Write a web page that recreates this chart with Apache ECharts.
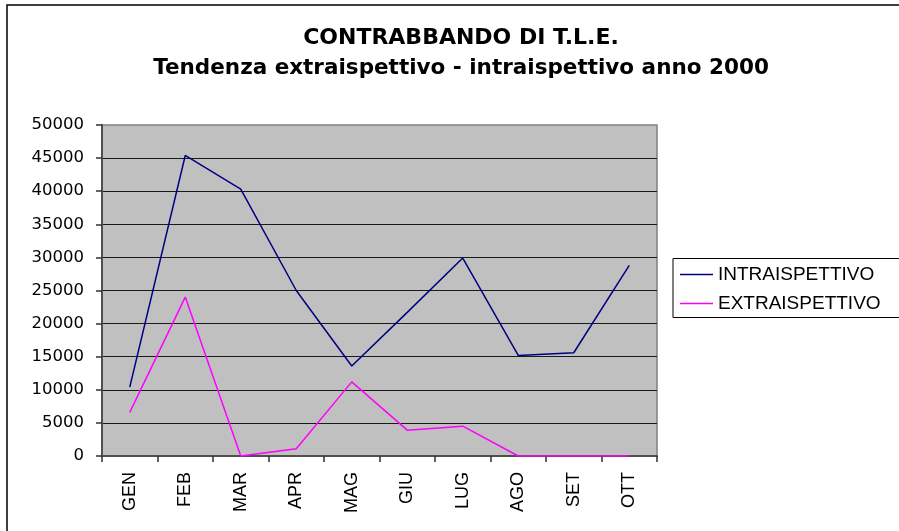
<!DOCTYPE html>
<html>
<head>
<meta charset="utf-8">
<script src="https://cdn.jsdelivr.net/npm/echarts@6/dist/echarts.min.js"></script>
<style>html,body{margin:0;padding:0;background:#fff;}#c{width:899px;height:531px;}</style>
</head>
<body>
<div id="c"></div>
<script>
const categories = ['GEN','FEB','MAR','APR','MAG','GIU','LUG','AGO','SET','OTT'];
const intraispettivo = [10400, 45400, 40300, 25000, 13600, 21700, 29900, 15200, 15600, 28800];
const extraispettivo = [6600, 24000, 0, 1100, 11200, 3900, 4500, 0, 0, 0];
const seriesNames = ['INTRAISPETTIVO', 'EXTRAISPETTIVO'];
const titleLines = ['CONTRABBANDO DI T.L.E.', 'Tendenza extraispettivo - intraispettivo anno 2000'];

const chart = echarts.init(document.getElementById('c'), null, {renderer: 'canvas'});
chart.setOption({
  animation: false,
  backgroundColor: '#ffffff',
  title: [
    {text: titleLines[0], left: 461, top: 27, textAlign: 'center', padding: 0,
     textStyle: {fontFamily: 'DejaVu Sans', fontWeight: 'bold', fontSize: 22, color: '#000'}},
    {text: titleLines[1], left: 461, top: 57, textAlign: 'center', padding: 0,
     textStyle: {fontFamily: 'DejaVu Sans', fontWeight: 'bold', fontSize: 21.5, color: '#000'}}
  ],
  graphic: [
    {type: 'rect', shape: {x: 7, y: 5, width: 1000, height: 1000}, style: {fill: 'none', stroke: '#000', lineWidth: 1.5}, silent: true},
    {type: 'rect', shape: {x: 673, y: 258.5, width: 240, height: 59}, style: {fill: '#fff', stroke: '#000', lineWidth: 1}, silent: true, z: -1}
  ],
  legend: {
    orient: 'vertical', left: 680, top: 265, padding: 0,
    icon: 'rect', itemWidth: 33, itemHeight: 1.5, itemGap: 10,
    textStyle: {fontFamily: 'Liberation Sans', fontSize: 19, color: '#000'},
    data: seriesNames
  },
  grid: {left: 102, right: 242, top: 125, bottom: 75, show: true, backgroundColor: '#c0c0c0', borderColor: '#808080', borderWidth: 1.5, containLabel: false},
  xAxis: {
    type: 'category', data: categories, boundaryGap: true,
    axisLine: {lineStyle: {color: '#505050', width: 2}},
    axisTick: {show: true, alignWithLabel: false, length: 6, inside: false, lineStyle: {color: '#303030', width: 1.5}},
    axisLabel: {rotate: 90, margin: 16, fontFamily: 'Liberation Sans', fontSize: 18, color: '#000'},
    splitLine: {show: false}
  },
  yAxis: {
    type: 'value', min: 0, max: 50000, interval: 5000,
    axisLine: {show: true, lineStyle: {color: '#505050', width: 2}},
    axisTick: {show: true, length: 6, lineStyle: {color: '#303030', width: 1.5}},
    axisLabel: {margin: 18, fontFamily: 'DejaVu Sans', fontSize: 16.5, color: '#000', formatter: function (v) { return String(v); }},
    splitLine: {show: true, showMaxLine: false, lineStyle: {color: '#1a1a1a', width: 1.2}}
  },
  series: [
    {name: seriesNames[0], type: 'line', data: intraispettivo, symbol: 'none', showSymbol: false,
     lineStyle: {color: '#000080', width: 1.5}, itemStyle: {color: '#000080'}},
    {name: seriesNames[1], type: 'line', data: extraispettivo, symbol: 'none', showSymbol: false,
     lineStyle: {color: '#ff00ff', width: 1.5}, itemStyle: {color: '#ff00ff'}}
  ]
});
</script>
</body>
</html>
